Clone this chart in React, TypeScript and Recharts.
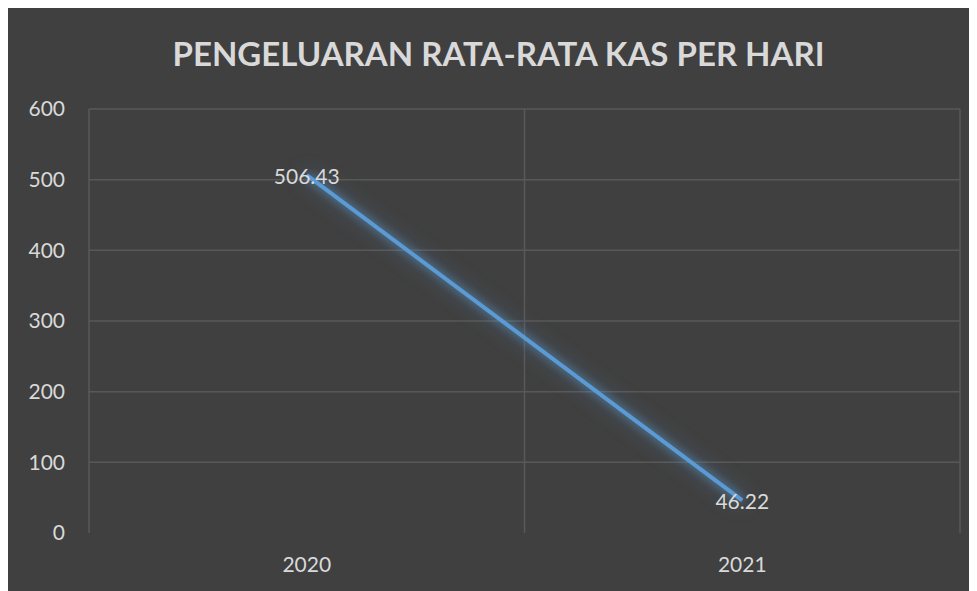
import React from 'react';
import {
  LineChart,
  Line,
  XAxis,
  YAxis,
  CartesianGrid,
  LabelList,
} from 'recharts';

// values
const years = ['2020', '2021'];
const expenses = [506.43, 46.22];
const yTicks = [0, 100, 200, 300, 400, 500, 600];
const yMax = 600;

const data = years.map((year, i) => ({ year, value: expenses[i] }));

const FONT = 'Lato, "Open Sans", sans-serif';
const TEXT = '#d9d9d9';
const GRID = '#585858';

const PointLabel = (props: any) => {
  const { x, y, value } = props;
  return (
    <text
      x={x}
      y={y}
      textAnchor="middle"
      dominantBaseline="central"
      fill={TEXT}
      fontSize={21}
      fontFamily={FONT}
    >
      {Number(value).toFixed(2)}
    </text>
  );
};

export default function App() {
  return (
    <div style={{ position: 'relative', width: 969, height: 583, background: '#404040' }}>
      <style>{`.recharts-line-curve { filter: drop-shadow(0 0 4px rgba(91,155,213,0.8)) drop-shadow(0 0 9px rgba(91,155,213,0.5)); }`}</style>
      <div
        style={{
          position: 'absolute',
          top: 25,
          left: 6,
          width: 969,
          textAlign: 'center',
          color: TEXT,
          fontFamily: FONT,
          fontWeight: 700,
          fontSize: 33,
          lineHeight: '40px',
        }}
      >
        PENGELUARAN RATA-RATA KAS PER HARI
      </div>
      <LineChart
        width={969}
        height={583}
        data={data}
        margin={{ top: 101, right: 17, left: 0, bottom: 28 }}
      >
        <CartesianGrid
          stroke={GRID}
          strokeWidth={1.5}
          // no gridline at zero, as in the original
          horizontalCoordinatesGenerator={({ offset }: any) =>
            yTicks
              .filter((t) => t > 0)
              .map((t) => offset.top + offset.height * (1 - t / yMax))
          }
          verticalCoordinatesGenerator={({ offset }: any) => [
            offset.left,
            offset.left + offset.width / 2,
            offset.left + offset.width,
          ]}
        />
        <XAxis
          dataKey="year"
          scale="band"
          axisLine={false}
          tickLine={false}
          tickSize={0}
          tickMargin={24}
          height={30}
          tick={{ fill: TEXT, fontSize: 21, fontFamily: FONT }}
        />
        <YAxis
          domain={[0, yMax]}
          ticks={yTicks}
          axisLine={false}
          tickLine={false}
          tickSize={0}
          tickMargin={24}
          width={81}
          tick={{ fill: TEXT, fontSize: 21, fontFamily: FONT }}
        />
        <Line
          type="linear"
          dataKey="value"
          stroke="#5b9bd5"
          strokeWidth={4}
          dot={false}
          isAnimationActive={false}
        >
          <LabelList dataKey="value" content={<PointLabel />} />
        </Line>
      </LineChart>
    </div>
  );
}
